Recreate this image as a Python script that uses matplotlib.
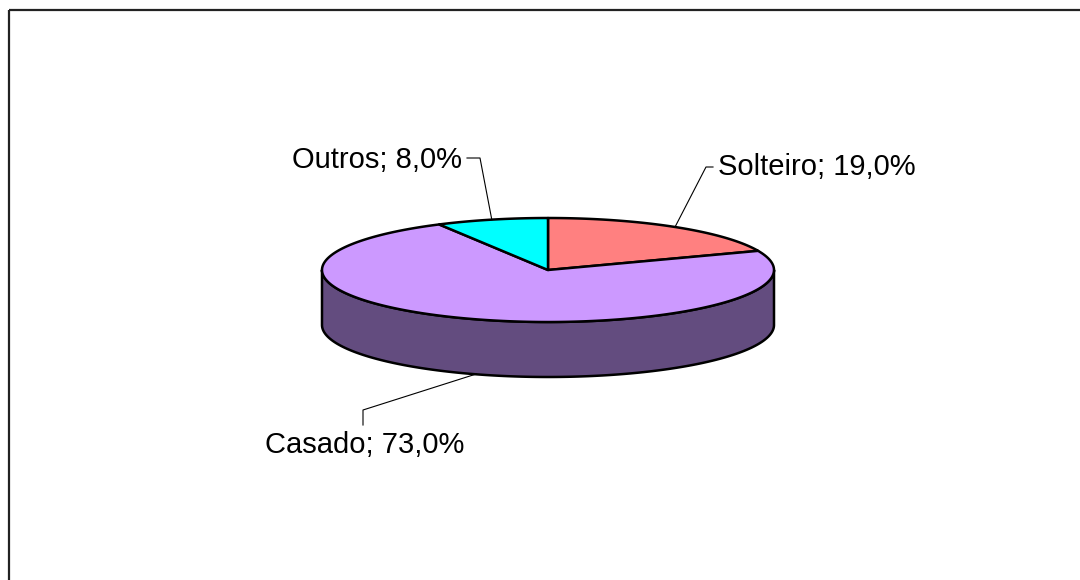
import numpy as np
import matplotlib
matplotlib.use("Agg")
import matplotlib.pyplot as plt
from matplotlib.patches import Polygon

# data
labels = ["Solteiro", "Casado", "Outros"]
values = [19.0, 73.0, 8.0]
top_colors = ["#FF8080", "#CC99FF", "#00FFFF"]
side_colors = ["#804040", "#634C7F", "#008080"]

# geometry of the 3D pie in pixel space
cx, cy = 548, 270
ra, rb = 226, 52
depth = 55

plt.rcParams['font.family'] = ['Liberation Sans', 'DejaVu Sans']

fig = plt.figure(figsize=(10.8, 5.8), dpi=100)
ax = fig.add_axes([0, 0, 1, 1])
ax.set_xlim(0, 1080)
ax.set_ylim(580, 0)
ax.axis("off")


def pt(theta, dz=0.0):
    # theta: degrees clockwise from 12 o'clock
    t = np.radians(theta)
    return cx + ra * np.sin(t), cy - rb * np.cos(t) + dz


# slice angle ranges (clockwise from top)
bounds = np.concatenate([[0], np.cumsum(values)]) / 100.0 * 360.0
starts, ends = bounds[:-1], bounds[1:]

# side walls (front half only: 90..270)
for s, e, c in zip(starts, ends, side_colors):
    lo, hi = max(s, 90), min(e, 270)
    if hi <= lo:
        continue
    th = np.linspace(lo, hi, 200)
    xs, ys = pt(th)
    xb, yb = pt(th[::-1], depth)
    poly = np.column_stack([np.concatenate([xs, xb]), np.concatenate([ys, yb])])
    ax.add_patch(Polygon(poly, closed=True, facecolor=c, edgecolor="black", lw=1.8, joinstyle="round"))

# top faces
for s, e, c in zip(starts, ends, top_colors):
    th = np.linspace(s, e, 300)
    xs, ys = pt(th)
    poly = np.column_stack([np.concatenate([[cx], xs]), np.concatenate([[cy], ys])])
    ax.add_patch(Polygon(poly, closed=True, facecolor=c, edgecolor="black", lw=1.8, joinstyle="round"))

# labels with leader lines
label_pos = {"Solteiro": (718, 167, "left"), "Outros": (462, 160, "right"), "Casado": (265, 445, "left")}
for lab, v, s, e in zip(labels, values, starts, ends):
    mid = (s + e) / 2
    ax_x, ax_y = pt(mid, depth if 90 < mid % 360 < 270 else 0)
    tx, ty, ha = label_pos[lab]
    text = "%s; %s%%" % (lab, ("%.1f" % v).replace(".", ","))
    ax.text(tx, ty, text, ha=ha, va="center", fontsize=21, color="black")
    if lab == "Casado":
        kx, ky = 363, 425
        path = [(kx, ky), (kx, ky - 15), (ax_x + 5, ax_y)]
    elif ha == "right":
        kx, ky = tx + 5, ty - 2
        path = [(kx, ky), (kx + 13, ky), (ax_x, ax_y)]
    else:
        kx, ky = tx - 5, ty
        path = [(kx, ky), (kx - 7, ky), (ax_x, ax_y)]
    px, py = zip(*path)
    ax.plot(px, py, color="black", lw=0.8)

# chart area border (top and left only visible)
ax.plot([9, 1080], [9.5, 9.5], color="#222222", lw=1.6, solid_capstyle="butt")
ax.plot([9, 9], [9.5, 580], color="#222222", lw=1.6, solid_capstyle="butt")

fig.savefig("out.png", dpi=100)
